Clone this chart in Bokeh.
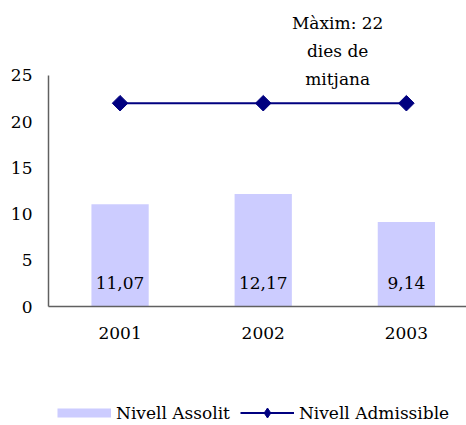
import math
from bokeh.plotting import figure
from bokeh.layouts import column
from bokeh.models import Range1d, LinearAxis, FixedTicker, CustomJSTickFormatter, Legend, LegendItem, Label, ColumnDataSource
from bokeh.core.properties import value
from bokeh.embed import file_html
from bokeh.resources import INLINE

years = ["2001", "2002", "2003"]
assolit = [11.07, 12.17, 9.14]
admissible = [22, 22, 22]
y_ticks = [0, 5, 10, 15, 20, 25]
note_lines = ["Màxim: 22", "dies de", "mitjana"]
series_names = ["Nivell Assolit", "Nivell Admissible"]

FONT = "DejaVu Serif"
FS = "17px"
BAR_COLOR = "#CCCCFF"
LINE_COLOR = "#000080"
xpos = list(range(len(years)))
labels = [f"{v:.2f}".replace(".", ",") for v in assolit]

src = ColumnDataSource(dict(x=xpos, a=assolit, b=admissible, lab=labels, zero=[0]*len(years)))

p = figure(width=466, height=400, output_backend="svg", toolbar_location=None,
           x_range=Range1d(-0.5, 2.42), y_range=Range1d(0, 32.9),
           x_axis_type=None, y_axis_type=None,
           min_border_left=48, min_border_top=2, min_border_bottom=94, min_border_right=0)
p.outline_line_color = None
p.xgrid.visible = False
p.ygrid.visible = False

p.vbar(x="x", top="a", width=0.4, source=src, fill_color=BAR_COLOR, line_color=None)
p.line(x="x", y="b", source=src, line_color=LINE_COLOR, line_width=2)
p.scatter(x="x", y="b", source=src, marker="square", angle=math.pi/4, size=11,
          fill_color=LINE_COLOR, line_color=LINE_COLOR)

p.text(x="x", y="zero", text="lab", source=src, text_align="center", text_baseline="middle",
       y_offset=-24, text_font=value(FONT), text_font_size=FS, text_color="black")

yax = LinearAxis(bounds=(0, 25), ticker=FixedTicker(ticks=y_ticks))
xax = LinearAxis(ticker=FixedTicker(ticks=xpos),
                 formatter=CustomJSTickFormatter(args=dict(names=years), code="return names[tick] || ''"))
for ax in (yax, xax):
    ax.axis_line_color = "#606060"
    ax.axis_line_width = 1.5
    ax.major_tick_line_color = None
    ax.minor_tick_line_color = None
    ax.major_label_text_font = FONT
    ax.major_label_text_font_size = FS
    ax.major_label_text_color = "black"
yax.major_label_standoff = 10
xax.major_label_standoff = 14
p.add_layout(yax, "left")
p.add_layout(xax, "below")

for i, t in enumerate(note_lines):
    p.add_layout(Label(x=1.52, y=30.63 - 2.98 * i, text=t, text_align="center", text_baseline="middle",
                       text_font=FONT, text_font_size=FS, text_color="black"))

# legend strip: a small figure whose view excludes the data, so only the legend shows
lg = figure(width=466, height=25, output_backend="svg", toolbar_location=None,
            x_range=Range1d(100, 101), y_range=Range1d(100, 101), x_axis_type=None, y_axis_type=None,
            min_border=0)
lg.outline_line_color = None
lg.xgrid.visible = False
lg.ygrid.visible = False
r1 = lg.line(x="x", y="a", source=src, line_color=BAR_COLOR, line_width=9)
r2 = lg.line(x="x", y="b", source=src, line_color=LINE_COLOR, line_width=2)
r3 = lg.scatter(x="x", y="b", source=src, marker="diamond", size=11,
                fill_color=LINE_COLOR, line_color=LINE_COLOR)
legend = Legend(items=[LegendItem(label=series_names[0], renderers=[r1]),
                       LegendItem(label=series_names[1], renderers=[r2, r3])],
                orientation="horizontal", location=(9, 0),
                glyph_width=54, glyph_height=25, label_text_font=FONT, label_text_font_size=FS,
                label_text_color="black",
                border_line_color=None, background_fill_alpha=0, spacing=10, padding=0, margin=0,
                label_standoff=5, label_height=20)
lg.add_layout(legend, "center")

open("out.html", "w").write(file_html(column(p, lg, spacing=0), INLINE))
